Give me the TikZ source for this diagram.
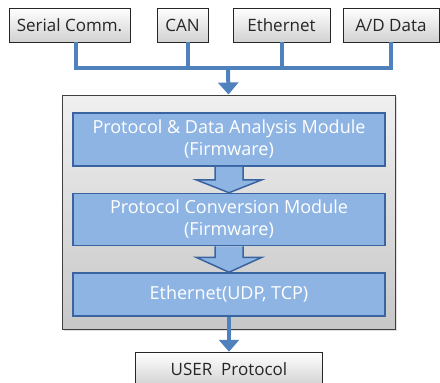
\documentclass[tikz,border=0pt]{standalone}
\usepackage{fontspec}
\setmainfont{Open Sans}
\usetikzlibrary{positioning,arrows.meta,shadows}
\definecolor{busblue}{HTML}{4F81BD}
\definecolor{modfill}{HTML}{8EB4E3}
\definecolor{modline}{HTML}{3A64A0}
\begin{document}
\begin{tikzpicture}[x=1pt, y=-1pt, node distance=26pt,
    src node/.style={draw=black!85, line width=0.8pt, top color=white, bottom color=black!18,
                     minimum height=34pt, inner sep=0pt, text=black!85, font=\fontsize{17}{19}\selectfont},
    mod node/.style={draw=modline, line width=1.5pt, fill=modfill, minimum width=312pt,
                     inner sep=0pt, align=center, text=white, font=\fontsize{18}{22}\selectfont},
    bus/.style={busblue, line width=4pt},
    block arrow/.style={draw=modline, line width=1.5pt, fill=modfill}]

  \useasboundingbox (0,0) rectangle (440,383);

  % input sources
  \node[src node, minimum width=121pt] (serial) at (69.5,25) {Serial Comm.};
  \node[src node, minimum width=51pt] (can) at (182.5,25) {CAN};
  \node[src node, minimum width=97pt] (eth) at (281.5,25) {Ethernet};
  \node[src node, minimum width=96pt] (ad) at (391,25) {A/D Data};

  % board with firmware modules
  \node[draw=black!75, line width=1pt, top color=black!6, bottom color=black!22,
        minimum width=333pt, minimum height=234pt,
        drop shadow={shadow xshift=2pt, shadow yshift=-2pt, opacity=0.25}] (board) at (228.5,212) {};
  \node[mod node, minimum height=53pt] (analysis) at (229,139.5) {Protocol \& Data Analysis Module\\(Firmware)};
  \node[mod node, minimum height=52pt, below=of analysis] (conversion) {Protocol Conversion Module\\(Firmware)};
  \node[mod node, minimum height=43pt, below=of conversion] (ethernet) {Ethernet(UDP, TCP)};

  \node[src node, minimum width=187pt, below=35pt of ethernet] (user) {USER\ \ Protocol};

  % bus from the sources
  \coordinate (bus) at (228,68);
  \draw[bus] ([xshift=6pt]serial.south) |- (bus -| ad.south) -- (ad.south);
  \draw[bus] ([xshift=5pt]can.south) -- ([xshift=5pt]can.south |- bus);
  \draw[bus] (eth.south) -- (eth.south |- bus);
  \draw[bus, -{Triangle[width=20pt,length=12pt]}] (bus) -- (board.north);

  % block arrows between modules
  \draw[block arrow] ([xshift=-14pt]analysis.south) -- ++(0,13) -- ++(-19,0) -- (conversion.north)
    -- ++(33,-13) -- ++(-19,0) -- ([xshift=14pt]analysis.south);
  \draw[block arrow] ([xshift=-14pt]conversion.south) -- ++(0,11) -- ++(-19,0) -- (ethernet.north)
    -- ++(33,-15) -- ++(-19,0) -- ([xshift=14pt]conversion.south);

  \draw[bus, -{Triangle[width=20pt,length=12pt]}] (ethernet.south) -- (user.north);
\end{tikzpicture}
\end{document}
